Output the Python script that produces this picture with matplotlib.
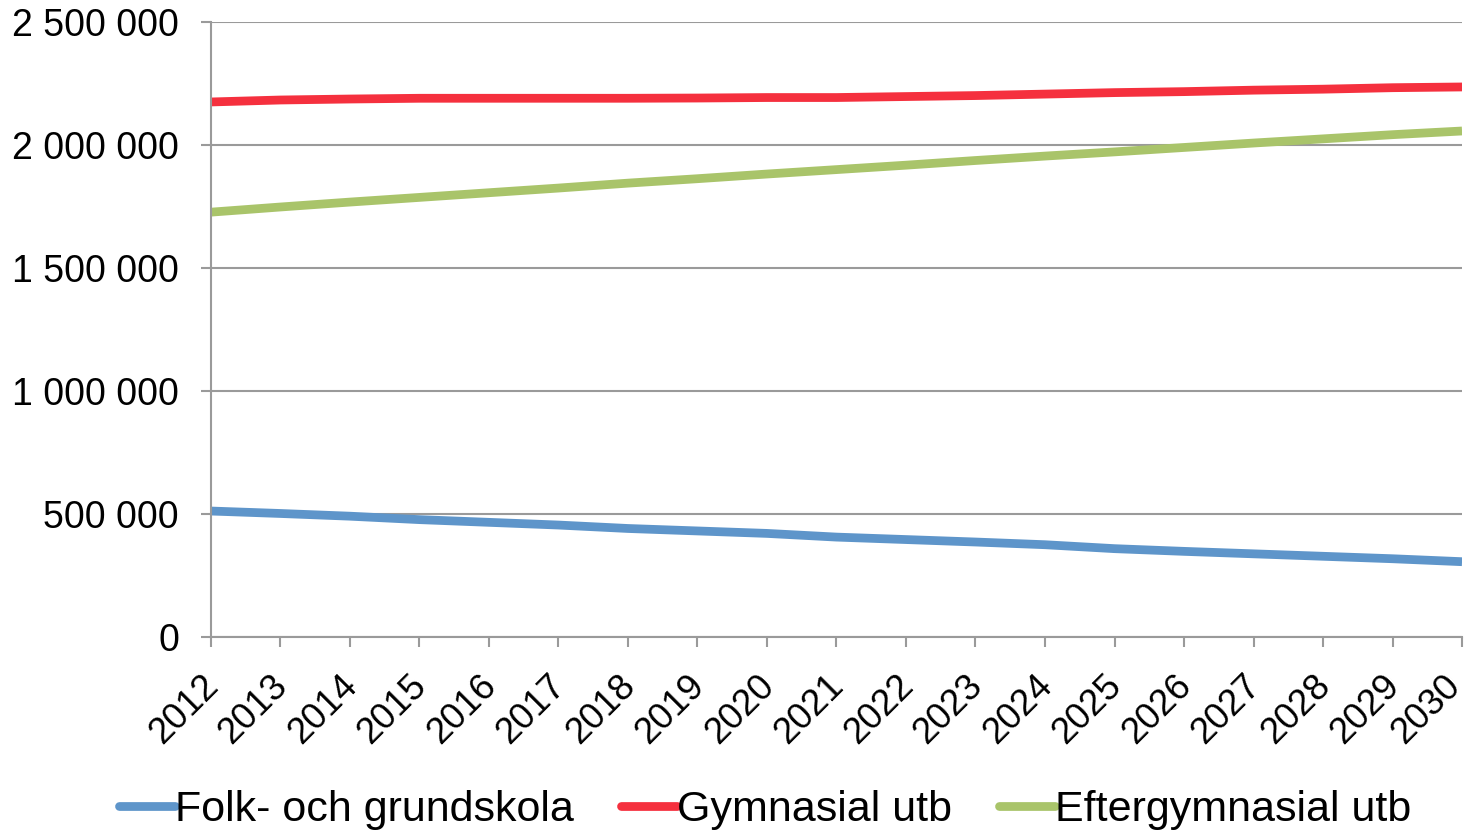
import matplotlib
matplotlib.use("Agg")
import matplotlib.pyplot as plt
import matplotlib.transforms as mtransforms
from matplotlib.ticker import FuncFormatter

years = [str(y) for y in range(2012, 2031)]
folk = [512000, 502000, 491000, 477000, 466000, 455000, 441000, 431000, 421000, 406000,
        396000, 386000, 375000, 359000, 348000, 338000, 328000, 318000, 306000]
gymn = [2175000, 2183000, 2187000, 2190000, 2190000, 2190000, 2190000, 2191000, 2193000, 2193000,
        2197000, 2201000, 2207000, 2213000, 2217000, 2223000, 2227000, 2233000, 2236000]
efter = [1727000, 1748000, 1768000, 1787000, 1806000, 1825000, 1845000, 1863000, 1882000, 1900000,
         1918000, 1937000, 1955000, 1972000, 1990000, 2008000, 2025000, 2042000, 2057000]

series = [("Folk- och grundskola", folk, "#5E95CA"),
          ("Gymnasial utb", gymn, "#F5303E"),
          ("Eftergymnasial utb", efter, "#A9C46A")]

plt.rcParams['font.family'] = ['Liberation Sans', 'DejaVu Sans']
fig = plt.figure(figsize=(14.71, 8.31), dpi=100)
ax = fig.add_axes([0.1434, 0.2335, 0.8505, 0.74])

x = list(range(len(years)))
for name, vals, col in series:
    ax.plot(x, vals, color=col, lw=6.3, label=name, solid_capstyle='butt')

ax.set_xlim(0, len(years) - 1)
ax.set_ylim(0, 2500000)
ax.set_yticks(range(0, 2500001, 500000))
ax.yaxis.set_major_formatter(FuncFormatter(lambda v, p: f"{int(v):,}".replace(",", " ")))
ax.set_xticks(x)
ax.set_xticklabels([])

# rotated category labels, placed under each tick
for i, yr in enumerate(years):
    dx = 2 if i < len(years) - 1 else -7
    off = mtransforms.ScaledTranslation(dx / 100, -44 / 100, fig.dpi_scale_trans)
    ax.text(i, 0, yr, transform=ax.get_xaxis_transform() + off, rotation=45,
            ha='right', va='center', rotation_mode='anchor', fontsize=26.5,
            clip_on=False)

ax.grid(axis='y', color='#9A9A9A', lw=1.5)
ax.set_axisbelow(True)
for s in ['top', 'right']:
    ax.spines[s].set_visible(False)
for s in ['left', 'bottom']:
    ax.spines[s].set_color('#9A9A9A')
    ax.spines[s].set_linewidth(1.5)
ax.tick_params(axis='both', colors='#9A9A9A', width=1.5, length=7, labelcolor='black')
ax.tick_params(axis='y', labelsize=27, pad=16)

leg = fig.legend(loc='center', bbox_to_anchor=(0.520, 0.025), ncol=3, frameon=False,
                 fontsize=31, handlelength=1.3, handletextpad=0.0, columnspacing=1.1,
                 borderpad=0, borderaxespad=0)
for line in leg.get_lines():
    line.set_solid_capstyle('round')
    line.set_linewidth(6.3)

fig.savefig("out.png", dpi=100)
